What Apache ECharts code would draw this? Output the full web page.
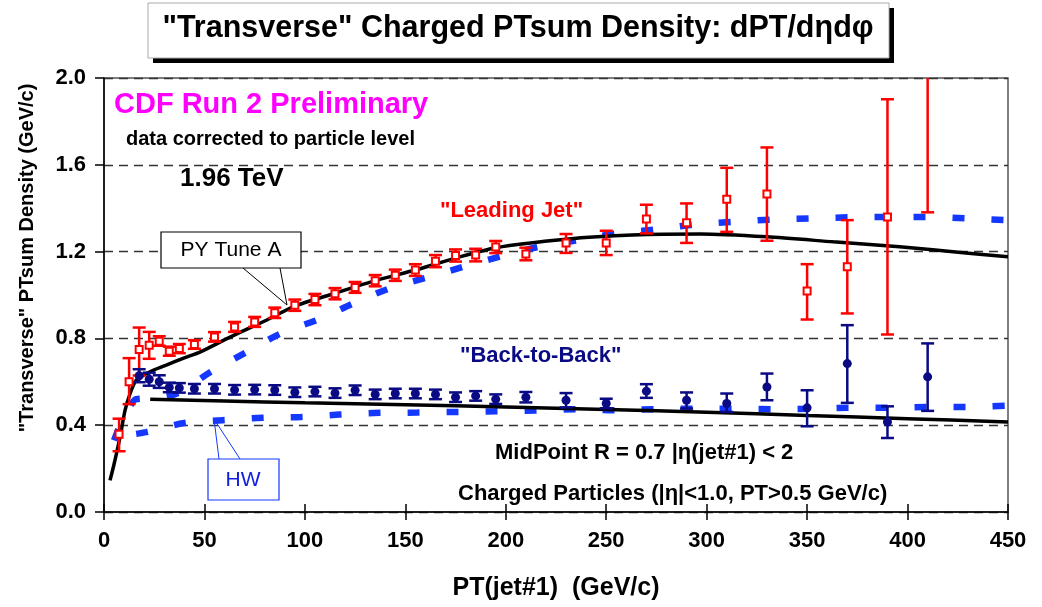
<!DOCTYPE html>
<html>
<head>
<meta charset="utf-8">
<script src="https://cdn.jsdelivr.net/npm/echarts@6/dist/echarts.min.js"></script>
<style>
  html, body { margin: 0; padding: 0; background: #fff; }
  #chart { width: 1042px; height: 607px; }
</style>
</head>
<body>
<div id="chart"></div>
<script>
// ---- CDF data: "transverse" charged PTsum density vs PT(jet#1) ----
const ptLead = [7.5, 12.5, 17.5, 22.5, 27.5, 32.5, 37.5, 45, 55, 65, 75, 85, 95, 105, 115, 125, 135, 145, 155, 165, 175, 185, 195, 210, 230, 250, 270, 290, 310, 330, 350, 370, 390, 410];
const leadVal = [0.358, 0.600, 0.749, 0.769, 0.787, 0.741, 0.753, 0.772, 0.807, 0.853, 0.876, 0.918, 0.953, 0.979, 1.006, 1.035, 1.066, 1.091, 1.115, 1.156, 1.182, 1.184, 1.221, 1.189, 1.240, 1.240, 1.350, 1.333, 1.441, 1.465, 1.018, 1.130, 1.360, 2.45];
const leadLo = [0.280, 0.497, 0.629, 0.706, 0.766, 0.720, 0.732, 0.752, 0.785, 0.830, 0.853, 0.894, 0.927, 0.953, 0.980, 1.010, 1.040, 1.065, 1.088, 1.128, 1.154, 1.155, 1.193, 1.160, 1.194, 1.184, 1.284, 1.240, 1.291, 1.250, 0.887, 0.915, 0.818, 1.381];
const leadHi = [0.430, 0.709, 0.850, 0.830, 0.810, 0.762, 0.774, 0.792, 0.829, 0.876, 0.899, 0.942, 0.979, 1.005, 1.032, 1.060, 1.092, 1.117, 1.142, 1.184, 1.210, 1.213, 1.249, 1.218, 1.281, 1.296, 1.416, 1.422, 1.586, 1.680, 1.142, 1.345, 1.902, 3.50];

const ptBack = [17.5, 22.5, 27.5, 32.5, 37.5, 45, 55, 65, 75, 85, 95, 105, 115, 125, 135, 145, 155, 165, 175, 185, 195, 210, 230, 250, 270, 290, 310, 330, 350, 370, 390, 410];
const backVal = [0.628, 0.612, 0.600, 0.574, 0.572, 0.568, 0.568, 0.563, 0.564, 0.562, 0.552, 0.555, 0.548, 0.561, 0.542, 0.546, 0.546, 0.542, 0.529, 0.535, 0.520, 0.529, 0.515, 0.500, 0.557, 0.515, 0.500, 0.576, 0.480, 0.684, 0.415, 0.623];
const backLo = [0.598, 0.582, 0.572, 0.552, 0.550, 0.546, 0.546, 0.541, 0.542, 0.540, 0.530, 0.533, 0.526, 0.539, 0.520, 0.524, 0.524, 0.520, 0.507, 0.513, 0.498, 0.505, 0.482, 0.478, 0.526, 0.477, 0.461, 0.515, 0.395, 0.503, 0.341, 0.466];
const backHi = [0.658, 0.642, 0.630, 0.596, 0.594, 0.590, 0.590, 0.585, 0.586, 0.584, 0.574, 0.577, 0.570, 0.583, 0.564, 0.568, 0.568, 0.564, 0.551, 0.557, 0.542, 0.553, 0.548, 0.522, 0.589, 0.551, 0.546, 0.638, 0.561, 0.861, 0.487, 0.777];

// ---- PYTHIA Tune A predictions (solid black) ----
const pyLeadPt = [3, 5, 8, 10.5, 13, 16, 20, 25, 31, 40, 48, 63, 80, 95, 115, 135, 155, 175, 195, 230, 263, 297, 330, 363, 396, 429, 450];
const pyLeadVal = [0.146, 0.22, 0.346, 0.469, 0.546, 0.607, 0.632, 0.655, 0.677, 0.71, 0.738, 0.807, 0.88, 0.949, 1.008, 1.066, 1.115, 1.17, 1.218, 1.257, 1.276, 1.281, 1.268, 1.245, 1.222, 1.194, 1.176];
const pyBackPt = [23, 60, 100, 150, 200, 250, 300, 350, 400, 450];
const pyBackVal = [0.520, 0.512, 0.503, 0.494, 0.484, 0.472, 0.460, 0.445, 0.430, 0.415];

// ---- HERWIG predictions (dashed blue) ----
const hwLeadPt = [5, 8, 12, 16, 25, 37, 53, 71, 88, 108, 124, 142, 161, 179, 198, 215, 236, 255, 275, 294, 313, 333, 352, 371, 390, 409, 429, 450];
const hwLeadVal = [0.33, 0.40, 0.47, 0.52, 0.525, 0.549, 0.645, 0.737, 0.823, 0.892, 0.961, 1.03, 1.081, 1.13, 1.179, 1.219, 1.253, 1.284, 1.302, 1.325, 1.337, 1.348, 1.353, 1.358, 1.36, 1.36, 1.353, 1.345];
const hwBackPt = [16, 21, 40, 59, 79, 98, 117, 137, 156, 175, 195, 215, 235, 254, 274, 293, 313, 333, 352, 371, 390, 410, 429, 450];
const hwBackVal = [0.36, 0.368, 0.41, 0.423, 0.434, 0.438, 0.449, 0.457, 0.458, 0.461, 0.464, 0.468, 0.474, 0.469, 0.474, 0.476, 0.476, 0.474, 0.476, 0.48, 0.48, 0.484, 0.484, 0.49];

// ---- axis ranges ----
const xRange = { min: 0, max: 450, step: 50 };
const yRange = { min: 0, max: 2.0, step: 0.4 };

const FONT = '"Liberation Sans", Arial, Helvetica, sans-serif';
const RED = '#ff0000';
const NAVY = '#0a0a84';
const HWBLUE = '#1438ff';

const pairs = (xs, ys) => xs.map((x, i) => [x, ys[i]]);
const triples = (xs, lo, hi) => xs.map((x, i) => [x, lo[i], hi[i]]);

// vertical error bar with caps, trimmed to the plotting area
function errorBar(color, capHalf, width) {
  return function (params, api) {
    const cs = params.coordSys;
    const x = api.value(0);
    const pLo = api.coord([x, api.value(1)]);
    const pHi = api.coord([x, api.value(2)]);
    const top = cs.y, bottom = cs.y + cs.height;
    const yHi = Math.max(pHi[1], top);
    const yLo = Math.min(pLo[1], bottom);
    const style = { stroke: color, lineWidth: width };
    const kids = [{ type: 'line', shape: { x1: pLo[0], y1: yLo, x2: pLo[0], y2: yHi }, style }];
    if (pHi[1] >= top) kids.push({ type: 'line', shape: { x1: pLo[0] - capHalf, y1: pHi[1], x2: pLo[0] + capHalf, y2: pHi[1] }, style });
    if (pLo[1] <= bottom) kids.push({ type: 'line', shape: { x1: pLo[0] - capHalf, y1: pLo[1], x2: pLo[0] + capHalf, y2: pLo[1] }, style });
    return { type: 'group', children: kids };
  };
}

function txt(text, x, y, size, color, opts) {
  opts = opts || {};
  return {
    type: 'text', x, y, z: 100, rotation: opts.rotation || 0,
    style: {
      text, fill: color, fontSize: size, fontWeight: opts.weight || 'bold', fontFamily: FONT,
      align: opts.align || 'left', verticalAlign: 'middle'
    }
  };
}

const chart = echarts.init(document.getElementById('chart'), null, { renderer: 'canvas' });

const option = {
  backgroundColor: '#ffffff',
  animation: false,
  grid: { left: 104, right: 34, top: 78, bottom: 95, show: true, borderColor: '#555', borderWidth: 1.5, backgroundColor: 'transparent' },
  xAxis: [{
    type: 'value', min: xRange.min, max: xRange.max, interval: xRange.step,
    axisLine: { onZero: false, lineStyle: { color: '#000', width: 1.5 } },
    axisTick: { length: 8, lineStyle: { color: '#000', width: 1.5 } },
    axisLabel: { margin: 18, color: '#000', fontSize: 22, fontWeight: 'bold', fontFamily: FONT },
    splitLine: { show: false },
    name: 'PT(jet#1)  (GeV/c)', nameLocation: 'middle', nameGap: 64,
    nameTextStyle: { color: '#000', fontSize: 25, fontWeight: 'bold', fontFamily: FONT }
  }, {
    type: 'value', min: xRange.min, max: xRange.max, interval: xRange.step, position: 'bottom',
    axisLine: { show: false },
    axisTick: { inside: true, length: 8, lineStyle: { color: '#000', width: 1.5 } },
    axisLabel: { show: false }, splitLine: { show: false }
  }],
  yAxis: {
    type: 'value', min: yRange.min, max: yRange.max, interval: yRange.step,
    axisLine: { show: true, onZero: false, lineStyle: { color: '#000', width: 1.5 } },
    axisTick: { show: true, length: 9, lineStyle: { color: '#000', width: 1.5 } },
    axisLabel: { margin: 18, color: '#000', fontSize: 22, fontWeight: 'bold', fontFamily: FONT, formatter: v => v.toFixed(1) },
    splitLine: { show: true, lineStyle: { color: '#333', width: 1.3, type: [9, 6] } }
  },
  series: [
    { name: 'HW leading', type: 'line', data: pairs(hwLeadPt, hwLeadVal), showSymbol: false, smooth: 0.3, z: 2,
      lineStyle: { color: HWBLUE, width: 6.5, type: [12, 27], cap: 'butt' } },
    { name: 'HW back', type: 'line', data: pairs(hwBackPt, hwBackVal), showSymbol: false, smooth: 0.3, z: 2,
      lineStyle: { color: HWBLUE, width: 6.5, type: [12, 27], cap: 'butt' } },
    { name: 'PY leading', type: 'line', data: pairs(pyLeadPt, pyLeadVal), showSymbol: false, smooth: 0.25, z: 3,
      lineStyle: { color: '#000', width: 3.5 } },
    { name: 'PY back', type: 'line', data: pairs(pyBackPt, pyBackVal), showSymbol: false, smooth: 0.3, z: 3,
      lineStyle: { color: '#000', width: 3.5 } },
    { name: 'lead err', type: 'custom', data: triples(ptLead, leadLo, leadHi), encode: { x: 0, y: [1, 2] },
      renderItem: errorBar(RED, 6.5, 2.5), z: 4 },
    { name: 'back err', type: 'custom', data: triples(ptBack, backLo, backHi), encode: { x: 0, y: [1, 2] },
      renderItem: errorBar(NAVY, 6.5, 2.5), z: 4 },
    { name: '"Leading Jet"', type: 'scatter', data: pairs(ptLead, leadVal), symbol: 'rect', symbolSize: 7, z: 5,
      itemStyle: { color: '#fff', borderColor: RED, borderWidth: 2, opacity: 1 } },
    { name: '"Back-to-Back"', type: 'scatter', data: pairs(ptBack, backVal), symbol: 'circle', symbolSize: 9, z: 5,
      itemStyle: { color: NAVY, opacity: 1 } }
  ],
  graphic: [
    // title box with drop shadow
    { type: 'rect', z: 90, shape: { x: 153, y: 8, width: 741, height: 55 }, style: { fill: '#000' } },
    { type: 'rect', z: 91, shape: { x: 148, y: 3, width: 741, height: 55 }, style: { fill: '#fff', stroke: '#aaa', lineWidth: 1 } },
    txt('"Transverse" Charged PTsum Density: dPT/d\u03b7d\u03c6', 518, 29, 30.5, '#000', { align: 'center' }),

    // y axis title
    txt('"Transverse" PTsum Density (GeV/c)', 27, 258, 20, '#000', { align: 'center', rotation: Math.PI / 2 }),

    // labels inside the plot
    txt('CDF Run 2 Preliminary', 114, 105, 29, '#ff00ff'),
    txt('data corrected to particle level', 126, 139, 20, '#000'),
    txt('1.96 TeV', 180, 179, 26, '#000'),
    txt('"Leading Jet"', 440, 211, 22, RED),
    txt('"Back-to-Back"', 460, 356, 22, NAVY),
    txt('MidPoint R = 0.7 |\u03b7(jet#1) < 2', 495, 453, 22, '#000'),
    txt('Charged Particles (|\u03b7|<1.0, PT>0.5 GeV/c)', 458, 494, 22, '#000'),

    // PY Tune A callout
    { type: 'polyline', z: 99, shape: { points: [[243, 268], [287, 305], [280, 268]] }, style: { stroke: '#000', lineWidth: 1, fill: null } },
    { type: 'rect', z: 99, shape: { x: 161, y: 232, width: 140, height: 36 }, style: { fill: '#fff', stroke: '#000', lineWidth: 1.2 } },
    txt('PY Tune A', 231, 250, 21, '#000', { align: 'center', weight: 'normal' }),

    // HW callout
    { type: 'polyline', z: 99, shape: { points: [[219, 459], [214, 419], [240, 459]] }, style: { stroke: HWBLUE, lineWidth: 1, fill: null } },
    { type: 'rect', z: 99, shape: { x: 208, y: 459, width: 71, height: 41 }, style: { fill: '#fff', stroke: HWBLUE, lineWidth: 1.2 } },
    txt('HW', 243, 480, 21, '#1020e0', { align: 'center', weight: 'normal' })
  ]
};

chart.setOption(option);
</script>
</body>
</html>
